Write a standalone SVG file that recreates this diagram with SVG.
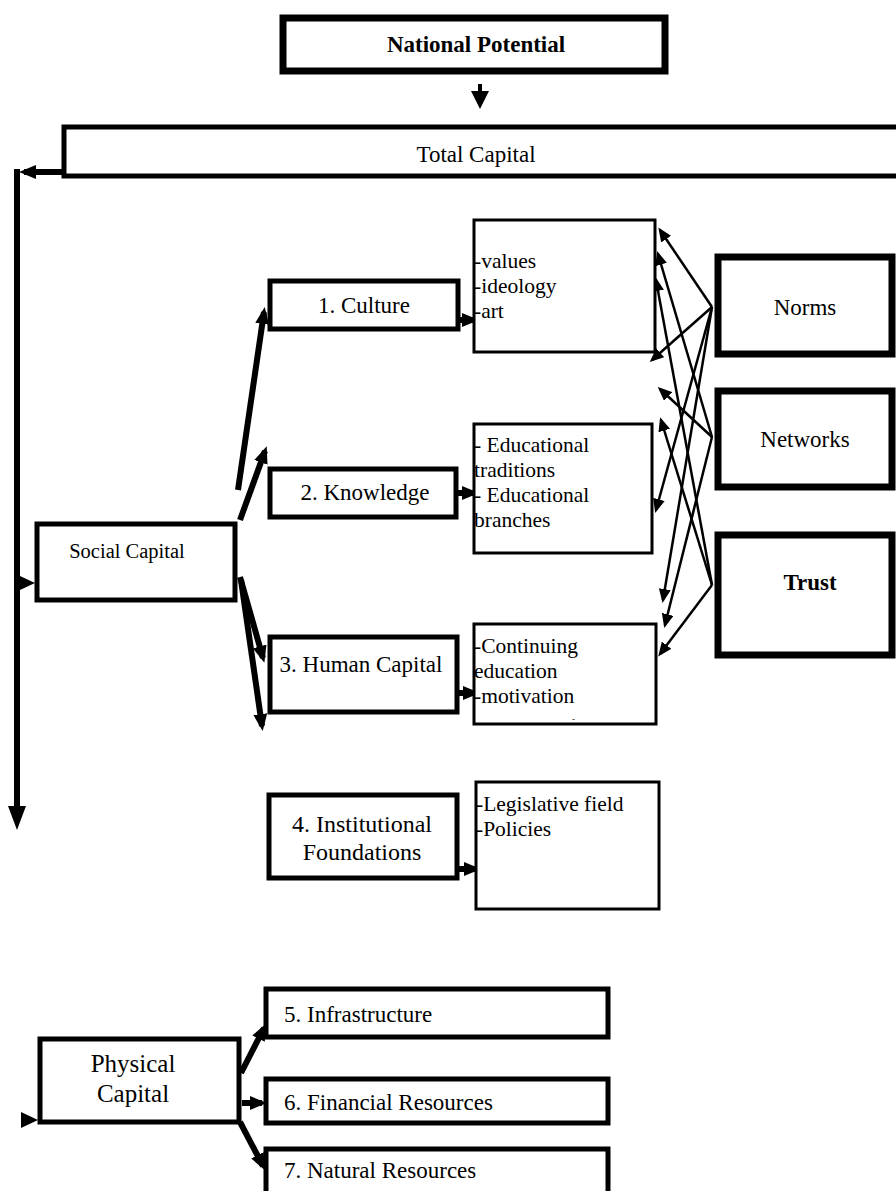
<svg xmlns="http://www.w3.org/2000/svg" width="896" height="1191" viewBox="0 0 896 1191">
<style>
text{font-family:"Liberation Serif","Times New Roman",serif;fill:#000}
.t{font-size:23px}
.d{font-size:21.5px}
.c{text-anchor:middle}
.b{font-weight:bold}
.box{fill:#fff;stroke:#000}
.thick{stroke-width:7}
.med{stroke-width:5}
.thin{stroke-width:3}
.ln{stroke:#000;fill:none}
.big{stroke-width:6}
.sm{stroke-width:2.5}
</style>
<defs>
<marker id="ah" markerUnits="userSpaceOnUse" markerWidth="18" markerHeight="16" refX="12" refY="8" orient="auto">
<path d="M0,1 L17,8 L0,15 z" fill="#000"/>
</marker>
<marker id="ahs" markerUnits="userSpaceOnUse" markerWidth="15" markerHeight="12" refX="11" refY="6" orient="auto">
<path d="M0,0 L14,6 L0,12 z" fill="#000"/>
</marker>
</defs>
<rect width="896" height="1191" fill="#fff"/>

<g id="connectors">
<!-- National to Total -->
<line class="ln" x1="480" y1="84" x2="480" y2="93" stroke-width="4"/>
<polygon points="471,91 489,91 480,109" fill="#000"/>
<!-- Total Capital to left trunk -->
<line class="ln big" x1="64" y1="172" x2="24" y2="172" marker-end="url(#ah)"/>
<line class="ln big" x1="17" y1="169" x2="17" y2="818"/>
<polygon points="8,806 26,806 17,830" fill="#000"/>
<!-- trunk to Social Capital -->
<polygon points="20,576 35,583 20,590" fill="#000"/>
<!-- Social capital branches -->
<line class="ln big" x1="238" y1="490" x2="264" y2="312" marker-end="url(#ah)"/>
<line class="ln big" x1="240" y1="520" x2="265" y2="451" marker-end="url(#ah)"/>
<line class="ln big" x1="240" y1="577" x2="263" y2="658" marker-end="url(#ah)"/>
<line class="ln big" x1="241" y1="580" x2="262" y2="726" marker-end="url(#ah)"/>
<!-- to detail boxes -->
<line class="ln big" x1="458" y1="320" x2="474" y2="320" marker-end="url(#ah)"/>
<line class="ln big" x1="458" y1="493" x2="474" y2="493" marker-end="url(#ah)"/>
<line class="ln big" x1="459" y1="693" x2="475" y2="693" marker-end="url(#ah)"/>
<line class="ln big" x1="458" y1="869" x2="476" y2="869" marker-end="url(#ah)"/>
<!-- Norms / Networks / Trust cross arrows -->
<line class="ln sm" x1="712" y1="307" x2="660" y2="230" marker-end="url(#ahs)"/>
<line class="ln sm" x1="712" y1="307" x2="652" y2="360" marker-end="url(#ahs)"/>
<line class="ln sm" x1="712" y1="307" x2="656" y2="510" marker-end="url(#ahs)"/>
<line class="ln sm" x1="712" y1="307" x2="663" y2="600" marker-end="url(#ahs)"/>
<line class="ln sm" x1="712" y1="437" x2="660" y2="389" marker-end="url(#ahs)"/>
<line class="ln sm" x1="712" y1="437" x2="658" y2="254" marker-end="url(#ahs)"/>
<line class="ln sm" x1="712" y1="437" x2="665" y2="625" marker-end="url(#ahs)"/>
<line class="ln sm" x1="712" y1="585" x2="656" y2="280" marker-end="url(#ahs)"/>
<line class="ln sm" x1="712" y1="585" x2="661" y2="420" marker-end="url(#ahs)"/>
<line class="ln sm" x1="712" y1="585" x2="660" y2="654" marker-end="url(#ahs)"/>
<!-- Physical capital -->
<polygon points="21,1112 38,1120 21,1128" fill="#000"/>
<line class="ln big" x1="241" y1="1073" x2="264" y2="1028" marker-end="url(#ah)"/>
<line class="ln big" x1="242" y1="1103" x2="262" y2="1103" marker-end="url(#ah)"/>
<line class="ln big" x1="240" y1="1122" x2="263" y2="1166" marker-end="url(#ah)"/>
</g>

<g id="national-potential">
<rect class="box thick" x="283" y="18" width="382" height="53"/>
<text class="t c b" x="476" y="52">National Potential</text>
</g>

<g id="total-capital">
<rect class="box med" x="64" y="127" width="840" height="49"/>
<text class="t c" x="476" y="162">Total Capital</text>
</g>

<g id="social-capital">
<rect class="box med" x="37" y="524" width="198" height="76"/>
<text x="127" y="558" class="c" font-size="20.5px">Social Capital</text>
</g>

<g id="culture">
<rect class="box med" x="270" y="281" width="188" height="48"/>
<text class="t c" x="364" y="313">1. Culture</text>
</g>

<g id="knowledge">
<rect class="box med" x="270" y="469" width="186" height="48"/>
<text class="t c" x="365" y="500">2. Knowledge</text>
</g>

<g id="human-capital">
<rect class="box med" x="270" y="637" width="187" height="75"/>
<text class="t c" x="361" y="672">3. Human Capital</text>
</g>

<g id="culture-detail">
<rect class="box thin" x="474" y="220" width="181" height="132"/>
<text class="d" x="474" y="268">-values</text>
<text class="d" x="474" y="293">-ideology</text>
<text class="d" x="474" y="318">-art</text>
</g>

<g id="knowledge-detail">
<rect class="box thin" x="474" y="424" width="178" height="129"/>
<text class="d" x="474" y="452">- Educational</text>
<text class="d" x="474" y="477">traditions</text>
<text class="d" x="474" y="502">- Educational</text>
<text class="d" x="474" y="527">branches</text>
</g>

<g id="human-detail">
<rect class="box thin" x="474" y="624" width="182" height="100"/>
<text class="d" x="474" y="653">-Continuing</text>
<text class="d" x="474" y="678">education</text>
<text class="d" x="474" y="703">-motivation</text>
<text x="572" y="722" font-size="9px">-</text>
</g>

<g id="norms">
<rect class="box thick" x="718" y="257" width="174" height="97"/>
<text class="t c" x="805" y="315" font-size="24px">Norms</text>
</g>

<g id="networks">
<rect class="box thick" x="718" y="391" width="174" height="96"/>
<text class="t c" x="805" y="447" font-size="24px">Networks</text>
</g>

<g id="trust">
<rect class="box thick" x="718" y="535" width="174" height="120"/>
<text class="t c b" x="810" y="590">Trust</text>
</g>

<g id="institutional">
<rect class="box med" x="269" y="795" width="188" height="83"/>
<text class="c" x="362" y="832" font-size="24px">4. Institutional</text>
<text class="c" x="362" y="860" font-size="24px">Foundations</text>
</g>

<g id="institutional-detail">
<rect class="box thin" x="476" y="782" width="183" height="127"/>
<text class="d" x="476" y="811">-Legislative field</text>
<text class="d" x="476" y="836">-Policies</text>
</g>

<g id="physical-capital">
<rect class="box med" x="40" y="1039" width="199" height="83"/>
<text class="c" x="133" y="1072" font-size="25px">Physical</text>
<text class="c" x="133" y="1102" font-size="25px">Capital</text>
</g>

<g id="infrastructure">
<rect class="box med" x="266" y="989" width="342" height="48"/>
<text class="t" x="284" y="1022">5. Infrastructure</text>
</g>

<g id="financial">
<rect class="box med" x="266" y="1079" width="342" height="44"/>
<text class="t" x="284" y="1110">6. Financial Resources</text>
</g>

<g id="natural">
<rect class="box med" x="266" y="1149" width="342" height="50"/>
<text class="t" x="284" y="1178">7. Natural Resources</text>
</g>
</svg>
